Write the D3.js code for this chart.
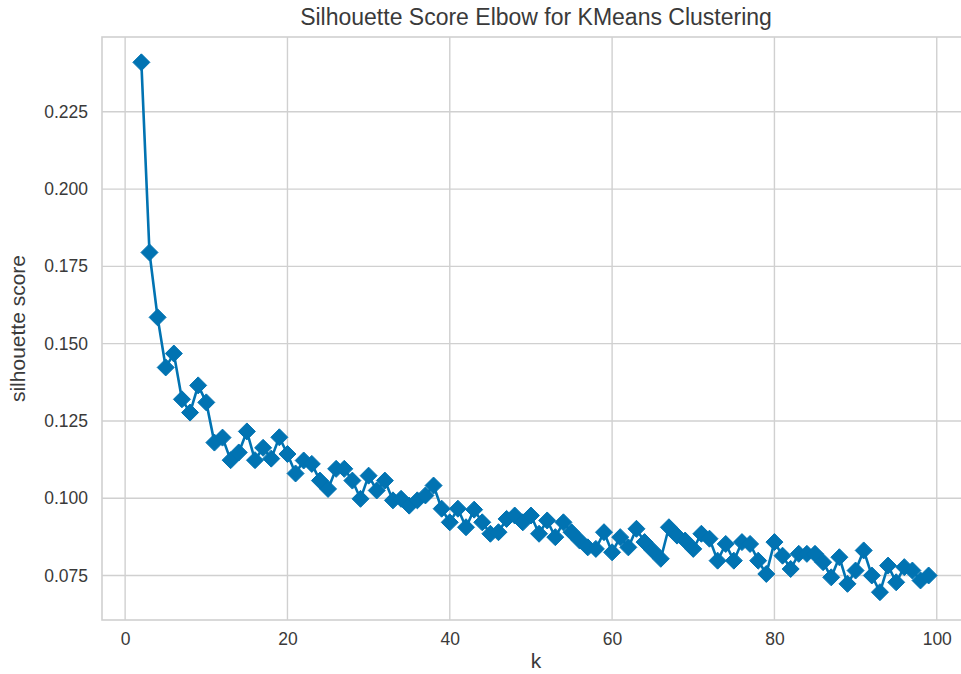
<!DOCTYPE html>
<html>
<head>
<meta charset="utf-8">
<script src="https://cdn.jsdelivr.net/npm/d3@7"></script>
<style>
  html, body { margin: 0; padding: 0; background: #fff; }
  svg { display: block; }
  text { font-family: "Liberation Sans", Arial, sans-serif; }
</style>
</head>
<body>
<script>
const kValues = d3.range(2, 100);
const scores = [
  0.2410, 0.1795, 0.1585, 0.1423, 0.1468, 0.1320, 0.1277, 0.1365, 0.1310, 0.1180,
  0.1196, 0.1123, 0.1148, 0.1216, 0.1123, 0.1163, 0.1128, 0.1197, 0.1143, 0.1080,
  0.1122, 0.1111, 0.1057, 0.1030, 0.1095, 0.1095, 0.1057, 0.0998, 0.1073, 0.1025,
  0.1057, 0.0993, 0.0998, 0.0976, 0.0993, 0.1009, 0.1041, 0.0966, 0.0922, 0.0966,
  0.0906, 0.0963, 0.0922, 0.0885, 0.0890, 0.0933, 0.0944, 0.0922, 0.0944, 0.0885,
  0.0928, 0.0874, 0.0922, 0.0890, 0.0863, 0.0841, 0.0836, 0.0890, 0.0825, 0.0874,
  0.0841, 0.0901, 0.0858, 0.0831, 0.0804, 0.0906, 0.0879, 0.0863, 0.0836, 0.0885,
  0.0869, 0.0798, 0.0852, 0.0798, 0.0858, 0.0852, 0.0798, 0.0755, 0.0858, 0.0814,
  0.0771, 0.0820, 0.0820, 0.0820, 0.0793, 0.0744, 0.0809, 0.0723, 0.0766, 0.0831,
  0.0750, 0.0696, 0.0782, 0.0728, 0.0777, 0.0766, 0.0734, 0.0750
];
const xTicks = [0, 20, 40, 60, 80, 100];
const yTicks = [0.075, 0.100, 0.125, 0.150, 0.175, 0.200, 0.225];

const data = kValues.map((k, i) => ({k, v: scores[i]}));

const W = 961, H = 674;
const pL = 102, pR = 968, pT = 37, pB = 620;
const color = "#0173B2";
const gridColor = "#d0d0d0";
const textColor = "#3a3a3a";

const x = d3.scaleLinear().domain([-2.85, 103.85]).range([pL, pR]);
const y = d3.scaleLinear().domain([0.0606, 0.2492]).range([pB, pT]);

const svg = d3.select("body").append("svg").attr("width", W).attr("height", H);

// grid
svg.append("g").selectAll("line").data(xTicks).join("line")
  .attr("x1", d => x(d)).attr("x2", d => x(d))
  .attr("y1", pT).attr("y2", pB)
  .attr("stroke", gridColor).attr("stroke-width", 1.4);
svg.append("g").selectAll("line").data(yTicks).join("line")
  .attr("x1", pL).attr("x2", pR)
  .attr("y1", d => y(d)).attr("y2", d => y(d))
  .attr("stroke", gridColor).attr("stroke-width", 1.4);

// frame
svg.append("rect").attr("x", pL).attr("y", pT)
  .attr("width", pR - pL).attr("height", pB - pT)
  .attr("fill", "none").attr("stroke", gridColor).attr("stroke-width", 1.6);

// axes (labels only)
const xAxis = svg.append("g").attr("transform", `translate(0,${pB})`)
  .call(d3.axisBottom(x).tickValues(xTicks).tickSize(0).tickPadding(13).tickFormat(d3.format("d")));
const yAxis = svg.append("g").attr("transform", `translate(${pL},0)`)
  .call(d3.axisLeft(y).tickValues(yTicks).tickSize(0).tickPadding(14).tickFormat(d3.format(".3f")));
[xAxis, yAxis].forEach(a => {
  a.select(".domain").remove();
  a.selectAll("text").attr("font-size", 17.5).attr("fill", textColor)
    .attr("font-family", '"Liberation Sans", Arial, sans-serif');
});

// line
svg.append("path").datum(data)
  .attr("fill", "none").attr("stroke", color).attr("stroke-width", 2.6)
  .attr("stroke-linejoin", "round")
  .attr("d", d3.line().x(d => x(d.k)).y(d => y(d.v)));

// diamond markers
const r = 8.5;
svg.append("g").selectAll("path").data(data).join("path")
  .attr("transform", d => `translate(${x(d.k)},${y(d.v)})`)
  .attr("d", `M0,${-r}L${r},0L0,${r}L${-r},0Z`)
  .attr("fill", color).attr("stroke", color).attr("stroke-width", 1)
  .attr("stroke-linejoin", "round");

// title
svg.append("text").attr("x", 536).attr("y", 25)
  .attr("text-anchor", "middle").attr("font-size", 23).attr("fill", textColor)
  .text("Silhouette Score Elbow for KMeans Clustering");

// axis labels
svg.append("text").attr("x", 536).attr("y", 668)
  .attr("text-anchor", "middle").attr("font-size", 21).attr("fill", textColor)
  .text("k");
svg.append("text").attr("transform", `translate(25,${(pT + pB) / 2}) rotate(-90)`)
  .attr("text-anchor", "middle").attr("font-size", 21).attr("fill", textColor)
  .text("silhouette score");
</script>
</body>
</html>
